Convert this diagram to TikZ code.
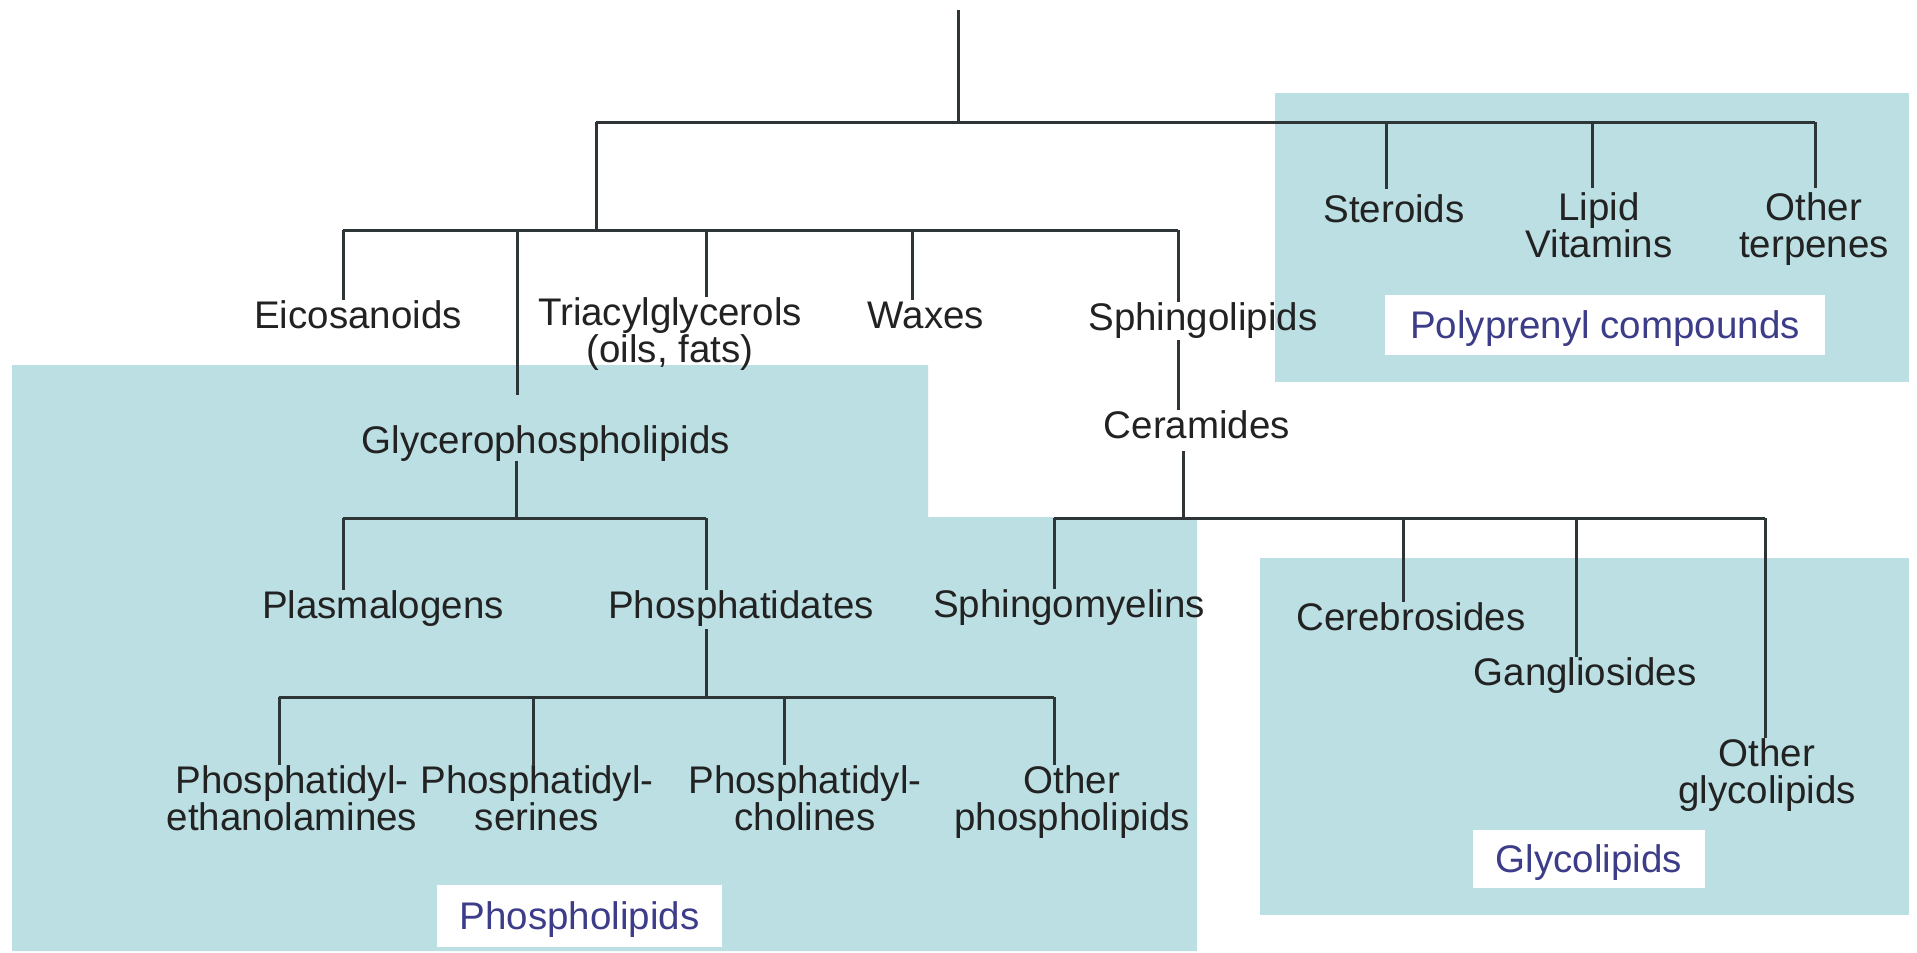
\documentclass[tikz,border=0pt]{standalone}
\usepackage{fontspec}
\setmainfont{Liberation Sans}
\definecolor{panel}{HTML}{BBDFE3}
\definecolor{ink}{HTML}{222222}
\definecolor{linec}{HTML}{2E3536}
\definecolor{tag}{HTML}{3C3C88}
\tikzset{
  lbl/.style={font=\fontsize{38.5}{37}\selectfont, text=ink, inner sep=0pt, text height=28pt, text depth=8pt},
  mlbl/.style={font=\fontsize{38.5}{37}\selectfont, text=ink, inner sep=0pt, align=center, text depth=8pt},
  tagbox/.style={fill=white, text=tag, font=\fontsize{38.5}{37}\selectfont, inner sep=0pt, text height=27.6pt, text depth=0pt},
  link/.style={draw=linec, line width=3pt},
  region/.style={fill=panel, draw=none}
}
\begin{document}
\begin{tikzpicture}[x=1pt,y=-1pt]
\useasboundingbox (0,0) rectangle (1917,953);
\fill[white] (0,0) rectangle (1917,953);
% shaded regions
\path[region] (12,365) -- (928,365) -- (928,517) -- (1197,517) -- (1197,951) -- (12,951) -- cycle;
\path[region] (1275,93) rectangle (1909,382);
\path[region] (1260,558) rectangle (1909,915);
% group labels
\node[tagbox, minimum width=440pt, minimum height=60pt] (polyl) at (1605,325) {Polyprenyl compounds};
\node[tagbox, minimum width=232pt, minimum height=58pt] (glycl) at (1589,859) {Glycolipids};
\node[tagbox, minimum width=285pt, minimum height=62pt] (phosl) at (579.5,916) {Phospholipids};
% nodes
\node[lbl] (eico) at (358,318) {Eicosanoids};
\node[mlbl] (tri) at (670,334) {Triacylglycerols\\(oils, fats)};
\node[lbl] (wax) at (926,318) {Waxes};
\node[lbl] (sph) at (1203,320) {Sphingolipids};
\node[lbl] (ster) at (1394,212) {Steroids};
\node[mlbl] (vit) at (1599,229) {Lipid\\Vitamins};
\node[mlbl] (terp) at (1814,229) {Other\\terpenes};
\node[lbl] (glyc) at (546,443) {Glycerophospholipids};
\node[lbl] (cer) at (1197,428) {Ceramides};
\node[lbl] (plas) at (383,608) {Plasmalogens};
\node[lbl] (pha) at (741,608) {Phosphatidates};
\node[lbl] (smy) at (1069,607) {Sphingomyelins};
\node[lbl] (cere) at (1411,620) {Cerebrosides};
\node[lbl] (gang) at (1585,675) {Gangliosides};
\node[mlbl] (ogly) at (1767,775) {Other\\glycolipids};
\node[mlbl] (pe) at (292,802) {Phosphatidyl-\\ethanolamines};
\node[mlbl] (ps) at (537,802) {Phosphatidyl-\\serines};
\node[mlbl] (pc) at (805,802) {Phosphatidyl-\\cholines};
\node[mlbl] (oph) at (1072,802) {Other\\phospholipids};
% junction coordinates
\coordinate (top) at (958,10);
\coordinate (a0) at (958,122);
\coordinate (aL) at (596,122);
\coordinate (aS) at (1386,122);
\coordinate (aV) at (1592,122);
\coordinate (aR) at (1815,122);
\coordinate (bTop) at (596,230);
\coordinate (bL) at (343,230);
\coordinate (bG) at (517,230);
\coordinate (bT) at (706,230);
\coordinate (bW) at (912,230);
\coordinate (bR) at (1178,230);
\coordinate (cTop) at (1183,518);
\coordinate (cL) at (1054,518);
\coordinate (cCe) at (1403,518);
\coordinate (cGa) at (1576,518);
\coordinate (cR) at (1765,518);
\coordinate (gTop) at (516,518);
\coordinate (gL) at (343,518);
\coordinate (gR) at (706,518);
\coordinate (pTop) at (706,697);
\coordinate (pL) at (279,697);
\coordinate (pS) at (533,697);
\coordinate (pC) at (784,697);
\coordinate (pR) at (1054,697);
% connectors: top level
\draw[link] (top) -- (a0);
\draw[link] (aL) -- (aR);
\draw[link] (aL) -- (bTop);
\draw[link] (bL) -- (bR);
\draw[link, shorten >=5pt] (aS) -- (aS |- ster.north);
\draw[link, shorten >=4pt] (aV) -- (aV |- vit.north);
\draw[link, shorten >=4pt] (aR) -- (aR |- terp.north);
\draw[link] (bL) -- (bL |- eico.north);
\draw[link, shorten >=30pt] (bG) -- (bG |- glyc.north);
\draw[link] (bT) -- (bT |- tri.north);
\draw[link] (bW) -- (bW |- wax.north);
\draw[link] (bR) -- (bR |- sph.north);
% sphingolipid branch
\draw[link, shorten <=2pt] (bR |- sph.south) -- (bR |- cer.north);
\draw[link, shorten <=5pt] (cTop |- cer.south) -- (cTop);
\draw[link] (cL) -- (cR);
\draw[link] (cL) -- (cL |- smy.north);
\draw[link] (cCe) -- (cCe |- cere.north);
\draw[link] (cGa) -- (cGa |- gang.north);
\draw[link] (cR) -- (cR |- ogly.north);
% glycerophospholipid branch
\draw[link] (gTop |- glyc.south) -- (gTop);
\draw[link] (gL) -- (gR);
\draw[link] (gL) -- (gL |- plas.north);
\draw[link] (gR) -- (gR |- pha.north);
\draw[link, shorten <=3pt] (pTop |- pha.south) -- (pTop);
\draw[link] (pL) -- (pR);
\draw[link] (pL) -- (pL |- pe.north);
\draw[link] (pS) -- (pS |- ps.north);
\draw[link] (pC) -- (pC |- pc.north);
\draw[link] (pR) -- (pR |- oph.north);
\end{tikzpicture}
\end{document}
